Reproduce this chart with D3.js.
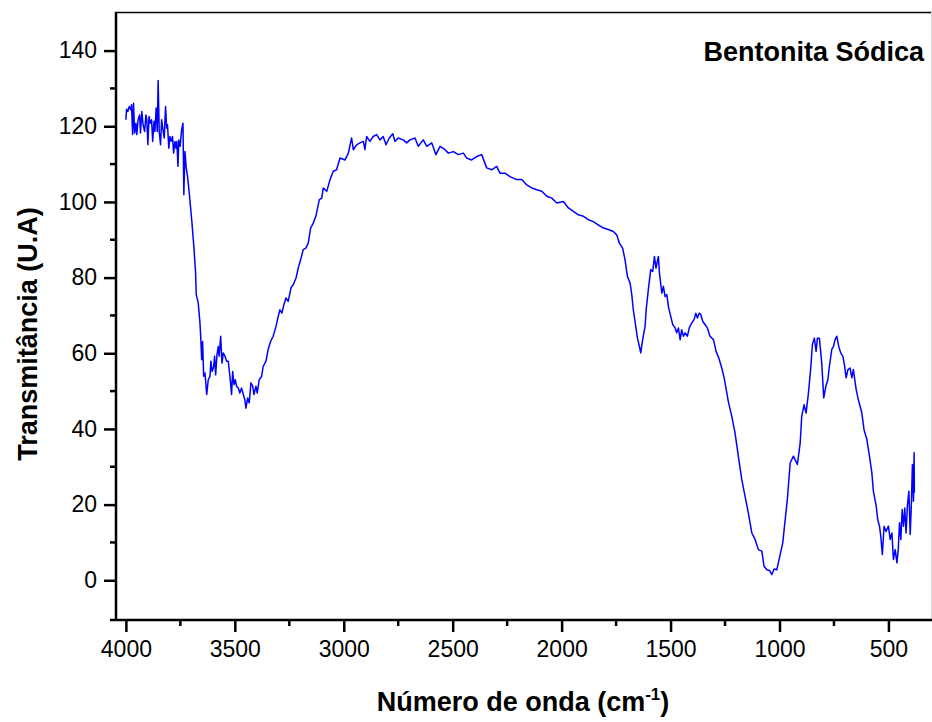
<!DOCTYPE html>
<html>
<head>
<meta charset="utf-8">
<script src="https://cdn.jsdelivr.net/npm/d3@7"></script>
<style>
	body { margin: 0; background: #fff; }
	svg text { font-family: "Liberation Sans", Arial, sans-serif; fill: #000; }
</style>
</head>
<body>
<div id="chart"></div>
<script>
//spectrum: wave numbers (cm-1) and transmittance (U.A)
let waveNumbers = [4000, 3997, 3991, 3985, 3978, 3974, 3969, 3965, 3960, 3954, 3950, 3944, 3937, 3933, 3927, 3921, 3914, 3908, 3904, 3899, 3894, 3888, 3882, 3877, 3871, 3867, 3861, 3856, 3852, 3847, 3841, 3836, 3830, 3824, 3818, 3813, 3809, 3803, 3798, 3792, 3786, 3781, 3775, 3770, 3766, 3761, 3757, 3751, 3744, 3738, 3734, 3729, 3723, 3717, 3709, 3698, 3688, 3680, 3677, 3668, 3660, 3656, 3652, 3648, 3643, 3637, 3629, 3622, 3614, 3610, 3604, 3597, 3593, 3588, 3582, 3576, 3572, 3565, 3559, 3553, 3545, 3538, 3530, 3526, 3521, 3515, 3510, 3504, 3498, 3492, 3484, 3477, 3469, 3461, 3454, 3449, 3441, 3434, 3426, 3418, 3412, 3403, 3397, 3388, 3377, 3370, 3357, 3347, 3336, 3324, 3311, 3301, 3293, 3284, 3275, 3265, 3255, 3242, 3232, 3219, 3209, 3198, 3186, 3174, 3163, 3152, 3140, 3128, 3122, 3112, 3101, 3094, 3078, 3063, 3048, 3033, 3017, 2994, 2979, 2964, 2956, 2941, 2926, 2910, 2903, 2895, 2880, 2865, 2849, 2834, 2819, 2806, 2791, 2775, 2765, 2750, 2727, 2711, 2696, 2673, 2658, 2635, 2619, 2596, 2577, 2558, 2535, 2520, 2497, 2474, 2451, 2436, 2413, 2390, 2367, 2344, 2321, 2298, 2283, 2260, 2237, 2206, 2183, 2160, 2137, 2114, 2091, 2068, 2045, 2022, 1992, 1969, 1946, 1923, 1900, 1877, 1854, 1831, 1808, 1786, 1763, 1747, 1735, 1720, 1709, 1698, 1686, 1678, 1671, 1663, 1652, 1643, 1637, 1628, 1617, 1612, 1602, 1591, 1582, 1574, 1567, 1556, 1551, 1540, 1533, 1525, 1517, 1510, 1499, 1490, 1479, 1472, 1464, 1456, 1449, 1441, 1433, 1423, 1414, 1403, 1392, 1384, 1377, 1369, 1361, 1352, 1342, 1331, 1319, 1303, 1291, 1279, 1265, 1254, 1235, 1219, 1204, 1189, 1173, 1158, 1143, 1127, 1112, 1097, 1081, 1071, 1058, 1046, 1035, 1025, 1012, 997, 985, 974, 964, 951, 936, 918, 905, 898, 887, 878, 867, 856, 849, 840, 832, 826, 817, 806, 797, 787, 778, 771, 760, 752, 745, 737, 728, 719, 709, 702, 694, 686, 676, 668, 661, 648, 638, 622, 612, 599, 587, 576, 569, 556, 549, 541, 535, 528, 520, 511, 500, 492, 484, 477, 469, 461, 455, 449, 443, 437, 431, 425, 419, 413, 406, 400, 394, 390, 385, 382, 381];

let transmittance = [121.7, 124.5, 123.9, 125.2, 124.4, 125.7, 117.8, 126.1, 118.2, 120.8, 117.8, 121.7, 123.0, 118.2, 123.9, 120.4, 118.6, 123.0, 121.7, 115.1, 122.6, 120.8, 121.7, 116.0, 121.3, 118.6, 124.8, 118.6, 132.1, 118.6, 115.1, 121.7, 119.1, 116.9, 125.2, 119.5, 120.4, 114.2, 117.3, 116.0, 117.3, 112.9, 116.0, 114.2, 116.0, 109.4, 116.4, 114.7, 119.1, 120.8, 101.9, 113.3, 109.0, 106.7, 102.3, 95.3, 88.2, 81.2, 75.5, 73.3, 68.0, 63.6, 58.3, 63.1, 53.9, 54.8, 49.1, 53.0, 53.9, 57.9, 55.2, 56.5, 59.2, 54.3, 59.6, 61.8, 59.2, 64.5, 57.4, 60.1, 59.2, 57.9, 57.9, 55.7, 53.0, 49.1, 55.2, 51.7, 53.0, 51.3, 50.8, 49.5, 50.8, 49.1, 47.7, 45.5, 48.2, 46.9, 52.2, 51.3, 49.1, 51.3, 49.5, 53.0, 53.9, 56.5, 57.9, 61.0, 63.1, 64.5, 67.1, 69.7, 71.5, 70.6, 72.8, 74.6, 73.7, 77.3, 78.1, 79.9, 82.5, 84.7, 87.4, 87.8, 89.1, 93.1, 94.4, 96.2, 97.9, 100.6, 101.0, 103.7, 102.8, 105.9, 108.1, 108.5, 111.6, 111.1, 112.9, 116.9, 113.8, 115.1, 115.6, 116.0, 113.8, 117.3, 116.0, 117.3, 117.8, 116.4, 117.3, 115.1, 116.9, 118.0, 116.0, 116.9, 116.4, 115.6, 116.4, 116.9, 114.7, 116.4, 114.7, 115.6, 112.5, 114.7, 113.8, 112.9, 113.3, 112.5, 112.9, 111.6, 111.1, 112.0, 112.5, 109.0, 108.5, 109.4, 107.6, 107.6, 106.7, 105.9, 105.9, 104.5, 103.7, 103.2, 102.8, 101.5, 101.0, 99.7, 100.1, 98.4, 97.5, 96.6, 96.2, 95.3, 94.8, 93.9, 93.1, 92.7, 92.2, 91.3, 89.1, 87.8, 84.7, 80.3, 78.6, 75.5, 71.5, 68.4, 64.0, 61.8, 60.1, 63.6, 67.1, 71.5, 76.8, 82.1, 81.6, 85.6, 82.5, 85.6, 81.2, 75.9, 77.7, 75.0, 75.5, 72.4, 69.7, 67.6, 66.7, 65.4, 66.7, 63.6, 66.2, 64.5, 65.4, 64.5, 66.7, 68.0, 68.9, 70.6, 69.3, 70.6, 70.2, 68.4, 67.6, 66.7, 64.5, 63.6, 60.5, 58.8, 56.1, 53.5, 47.3, 43.3, 38.9, 32.8, 26.6, 22.2, 17.8, 12.5, 10.8, 8.1, 7.7, 3.7, 2.8, 2.6, 1.5, 3.0, 2.8, 6.8, 9.9, 16.0, 21.3, 31.0, 32.8, 30.6, 36.3, 43.3, 46.4, 44.2, 49.5, 56.5, 62.3, 64.0, 60.5, 64.0, 64.0, 57.4, 48.2, 51.3, 53.0, 56.5, 61.0, 61.8, 63.6, 64.5, 61.8, 60.1, 59.2, 57.0, 53.5, 55.7, 56.1, 53.5, 55.7, 50.4, 47.7, 44.2, 39.8, 37.2, 32.8, 28.4, 23.5, 19.6, 16.0, 14.3, 11.6, 6.8, 14.3, 12.9, 14.3, 10.8, 12.5, 5.5, 8.1, 4.6, 8.1, 15.2, 10.8, 18.7, 14.3, 19.1, 12.5, 19.6, 23.5, 12.1, 21.3, 30.6, 20.9, 33.7, 23.1];

//tick values
let xMajorTicks = [4000, 3500, 3000, 2500, 2000, 1500, 1000, 500];
let xMinorTicks = [3750, 3250, 2750, 2250, 1750, 1250, 750];
let yMajorTicks = [0, 20, 40, 60, 80, 100, 120, 140];
let yMinorTicks = [10, 30, 50, 70, 90, 110, 130];

let chartTitle = "Bentonita Sódica";

function drawChart(){

	let width = 932;
	let height = 722;

	let svg = d3.select("#chart")
		.append("svg")
		.attr("width", width)
		.attr("height", height);

	//scales (axis goes from high to low wave number)
	const xScale = d3.scaleLinear()
		.domain([4050, 300])
		.range([115, 932]);

	const yScale = d3.scaleLinear()
		.domain([-10.5, 150.2])
		.range([620, 12]);

	let data = waveNumbers.map((w, i) => ({ w: w, t: transmittance[i] }));

	//frame: top line and clipped right edge
	svg.append("line")
		.attr("x1", 115).attr("x2", width)
		.attr("y1", 12.5).attr("y2", 12.5)
		.attr("stroke", "#000")
		.attr("stroke-width", 1.5);

	svg.append("line")
		.attr("x1", 931.5).attr("x2", 931.5)
		.attr("y1", 12).attr("y2", 620)
		.attr("stroke", "#d8d8d8")
		.attr("stroke-width", 1);

	//spectrum
	let line = d3.line()
		.x((d) => xScale(d.w))
		.y((d) => yScale(d.t));

	svg.append("path")
		.datum(data)
		.attr("fill", "none")
		.attr("stroke", "#0000ff")
		.attr("stroke-width", 1.5)
		.attr("stroke-linejoin", "round")
		.attr("d", line);

	//x axis
	let xAxis = d3.axisBottom(xScale)
		.tickValues(xMajorTicks)
		.tickFormat(d3.format("d"))
		.tickSize(12)
		.tickPadding(9)
		.tickSizeOuter(0);

	let gx = svg.append("g")
		.attr("class", "axis x_axis")
		.attr("transform", "translate(0,620)")
		.call(xAxis);

	gx.select(".domain").remove();
	gx.append("line")
		.attr("x1", 110).attr("x2", width)
		.attr("stroke", "#000")
		.attr("stroke-width", 2.5);

	gx.selectAll(".minor")
		.data(xMinorTicks)
		.enter()
		.append("line")
		.attr("class", "minor")
		.attr("x1", (d) => xScale(d))
		.attr("x2", (d) => xScale(d))
		.attr("y1", 0)
		.attr("y2", 6)
		.attr("stroke", "#000")
		.attr("stroke-width", 2.5);

	//y axis
	let yAxis = d3.axisLeft(yScale)
		.tickValues(yMajorTicks)
		.tickFormat(d3.format("d"))
		.tickSize(12)
		.tickPadding(7)
		.tickSizeOuter(0);

	let gy = svg.append("g")
		.attr("class", "axis y_axis")
		.attr("transform", "translate(116,0)")
		.call(yAxis);

	gy.select(".domain").remove();
	gy.append("line")
		.attr("y1", 12).attr("y2", 621)
		.attr("stroke", "#000")
		.attr("stroke-width", 2.5);

	gy.selectAll(".minor")
		.data(yMinorTicks)
		.enter()
		.append("line")
		.attr("class", "minor")
		.attr("y1", (d) => yScale(d))
		.attr("y2", (d) => yScale(d))
		.attr("x1", 0)
		.attr("x2", -6)
		.attr("stroke", "#000")
		.attr("stroke-width", 2.5);

	svg.selectAll(".axis .tick line")
		.attr("stroke", "#000")
		.attr("stroke-width", 2.5);

	svg.selectAll(".axis .tick text")
		.style("font-size", "23px")
		.attr("fill", "#000");

	//axis titles
	svg.append("text")
		.attr("transform", "translate(36.5,334) rotate(-90)")
		.attr("text-anchor", "middle")
		.style("font-size", "27px")
		.style("font-weight", "bold")
		.text("Transmitância (U.A)");

	let xTitle = svg.append("text")
		.attr("x", 523)
		.attr("y", 711)
		.attr("text-anchor", "middle")
		.style("font-size", "27px")
		.style("font-weight", "bold");

	xTitle.append("tspan").text("Número de onda (cm");
	xTitle.append("tspan")
		.attr("dy", -11)
		.style("font-size", "17px")
		.text("-1");
	xTitle.append("tspan")
		.attr("dy", 11)
		.text(")");

	//chart label
	svg.append("text")
		.attr("x", 924)
		.attr("y", 61)
		.attr("text-anchor", "end")
		.style("font-size", "27px")
		.style("font-weight", "bold")
		.text(chartTitle);

} //drawChart

drawChart();
</script>
</body>
</html>
